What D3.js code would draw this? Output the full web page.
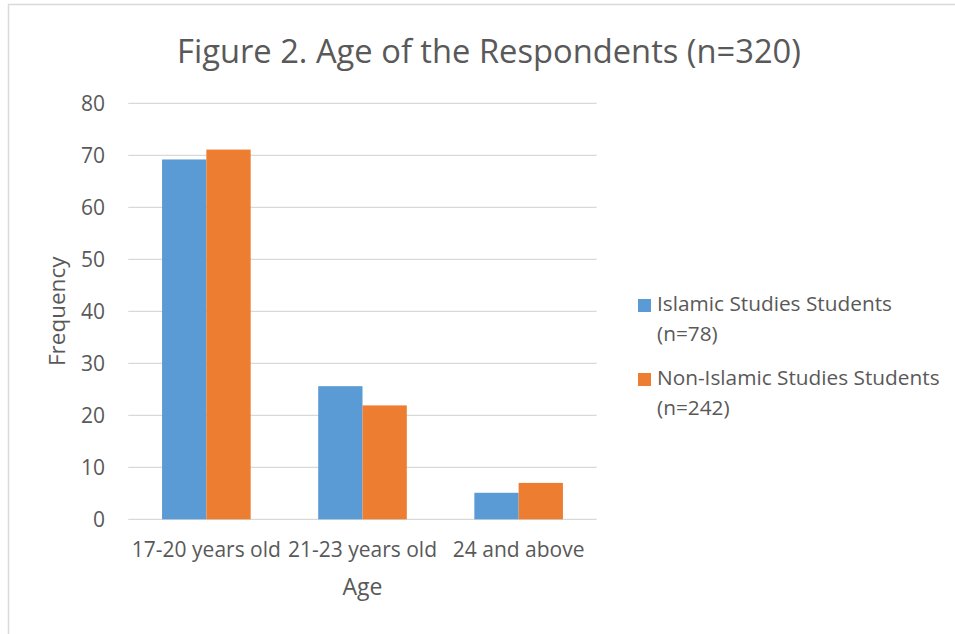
<!DOCTYPE html>
<html>
<head>
<meta charset="utf-8">
<script src="https://cdn.jsdelivr.net/npm/d3@7/dist/d3.min.js"></script>
<style>
  html, body { margin: 0; padding: 0; background: #fff; }
  svg { display: block; }
  text { font-family: "Open Sans", sans-serif; fill: #595959; }
</style>
</head>
<body>
<svg id="chart" width="955" height="634"></svg>
<script>
const categories = ["17-20 years old", "21-23 years old", "24 and above"];
const seriesNames = ["Islamic Studies Students", "Non-Islamic Studies Students"];
const seriesSub = ["(n=78)", "(n=242)"];
const islamicValues = [69.2, 25.6, 5.1];
const nonIslamicValues = [71.1, 21.9, 7.0];
const yTicks = [0, 10, 20, 30, 40, 50, 60, 70, 80];
const colors = ["#5B9BD5", "#ED7D31"];

const series = [islamicValues, nonIslamicValues];
const svg = d3.select("#chart");
const FONT = '"Open Sans", sans-serif';

// outer chart border (left and top visible)
svg.append("line").attr("x1", 8.5).attr("x2", 8.5).attr("y1", 4.5).attr("y2", 634)
  .attr("stroke", "#D9D9D9").attr("stroke-width", 1.5);
svg.append("line").attr("x1", 8).attr("x2", 955).attr("y1", 4.5).attr("y2", 4.5)
  .attr("stroke", "#D9D9D9").attr("stroke-width", 1.5);

const plot = { left: 128.3, right: 596.7, top: 103.3, bottom: 519.3 };

const x0 = d3.scaleBand().domain(categories).range([plot.left, plot.right]).paddingInner(0.4325).paddingOuter(0.21625);
const x1 = d3.scaleBand().domain(d3.range(series.length)).range([0, x0.bandwidth()]);
const y = d3.scaleLinear().domain([0, 80]).range([plot.bottom, plot.top]);

// gridlines
svg.append("g").selectAll("line").data(yTicks).join("line")
  .attr("x1", plot.left).attr("x2", plot.right)
  .attr("y1", d => y(d)).attr("y2", d => y(d))
  .attr("stroke", "#D9D9D9").attr("stroke-width", 1.3);

// y axis labels
const yAxis = d3.axisLeft(y).tickValues(yTicks).tickSize(0).tickPadding(0);
const gy = svg.append("g").attr("transform", `translate(${105},0)`).call(yAxis);
gy.select(".domain").remove();
gy.selectAll("text").style("font-size", "21px").style("fill", "#595959").style("font-family", FONT);

// bars
const groups = svg.append("g").selectAll("g").data(categories).join("g")
  .attr("transform", d => `translate(${x0(d)},0)`);
groups.selectAll("rect").data((d, i) => series.map((s, k) => ({ k, v: s[i] }))).join("rect")
  .attr("x", d => x1(d.k)).attr("width", x1.bandwidth())
  .attr("y", d => y(d.v)).attr("height", d => y(0) - y(d.v))
  .attr("fill", d => colors[d.k]);

// x axis labels
const xAxis = d3.axisBottom(x0).tickSize(0).tickPadding(0);
const gx = svg.append("g").attr("transform", `translate(0,${557})`).call(xAxis);
gx.select(".domain").remove();
gx.selectAll("text").attr("dy", 0).style("font-size", "21px").style("fill", "#595959").style("font-family", FONT);

// axis titles
svg.append("text").attr("x", (plot.left + plot.right) / 2).attr("y", 595)
  .attr("text-anchor", "middle").style("font-size", "23px").text("Age");
svg.append("text").attr("transform", `translate(65,${(plot.top + plot.bottom) / 2}) rotate(-90)`)
  .attr("text-anchor", "middle").style("font-size", "22.5px").text("Frequency");

// title
svg.append("text").attr("x", 489).attr("y", 63).attr("text-anchor", "middle")
  .style("font-size", "32.7px").text("Figure 2. Age of the Respondents (n=320)");

// legend
const legend = svg.append("g");
const lg = legend.selectAll("g").data(seriesNames).join("g")
  .attr("transform", (d, i) => `translate(638,${299 + i * 74})`);
lg.append("rect").attr("width", 13).attr("height", 13).attr("fill", (d, i) => colors[i]);
lg.append("text").attr("x", 19).attr("y", 12).style("font-size", "20.8px").text(d => d);
lg.append("text").attr("x", 19).attr("y", 42).style("font-size", "20.8px").text((d, i) => seriesSub[i]);
</script>
</body>
</html>
